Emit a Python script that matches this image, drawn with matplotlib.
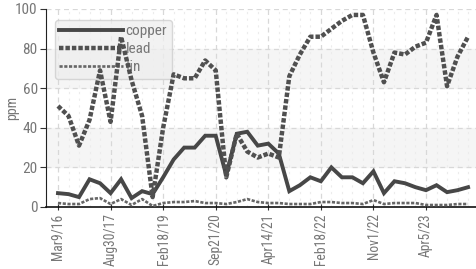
import numpy as np
import matplotlib
matplotlib.use("Agg")
from matplotlib import pyplot as plt

plt.rcParams['font.family'] = ['Roboto Condensed', 'Roboto', 'DejaVu Sans']

# values, one per sample
copper = [7, 6.5, 5, 14, 12, 7, 14, 4.5, 8, 6.5,
          15, 24, 30, 30, 36, 36, 16, 37, 38, 31,
          32, 27, 8, 11, 15, 13, 20, 15, 15, 12,
          18, 7, 13, 12, 10, 8.5, 11, 7.5, 8.5, 10]
lead = [51, 46, 31, 44, 69, 43, 86, 64, 46, 5,
        40, 67, 65, 65, 74, 69, 15, 37, 28, 25,
        27, 25, 66, 77, 86, 86, 90, 94, 97, 97,
        78, 63, 78, 77, 81, 83, 97, 61, 76, 86]
tin = [2, 1.5, 1.5, 4, 4.5, 1.5, 4, 1, 4, 0.5,
       2, 2.5, 2.5, 3, 2, 2, 1.5, 2.5, 4, 2.5,
       2, 2, 1.5, 1.5, 1.5, 2.5, 2.5, 2, 2, 1.5,
       3.5, 1.5, 2, 2, 2, 1, 1, 1, 1.5, 1.5]
tick_labels = ['Mar9/16', 'Aug30/17', 'Feb18/19', 'Sep21/20',
               'Apr14/21', 'Feb18/22', 'Nov1/22', 'Apr5/23']

x = np.arange(len(copper))
txt = '#777777'

fig = plt.figure(figsize=(4.77, 2.69), dpi=100)
ax = fig.add_axes([46 / 477, 62 / 269, 431 / 477, 198 / 269])

ax.axhspan(20, 40, color='#f5f5f5', zorder=0)
ax.axhspan(60, 80, color='#f5f5f5', zorder=0)

ax.plot(x, copper, color='#474747', lw=2.8, solid_joinstyle='miter', label='copper', zorder=3)
ax.plot(x, lead, color='#505050', lw=3.2, dashes=(1.0, 0.45), label='lead', zorder=3)
ax.plot(x, tin, color='#666666', lw=1.9, dashes=(1.2, 0.6), label='tin', zorder=3)

ax.set_xlim(-1.14, 39.85)
ax.set_ylim(0, 100)
ax.set_xticks(x[::5])
ax.set_xticklabels(tick_labels, rotation=90, color=txt, fontsize=9.8)
ax.set_xticks(x, minor=True)
ax.set_yticks([0, 20, 40, 60, 80, 100])
ax.tick_params(axis='y', labelcolor=txt, labelsize=11, length=4, color='#333333', pad=2)
ax.tick_params(axis='x', which='major', length=5, direction='inout', color='#333333', pad=2)
ax.tick_params(axis='x', which='minor', length=0)
ax.grid(True, which='major', color='#d8d8d8', ls=(0, (4, 3)), lw=0.9)
ax.grid(True, which='minor', axis='x', color='#ececec', ls=(0, (2, 4)), lw=0.8)
ax.set_axisbelow(True)
ax.set_ylabel('ppm', color=txt, fontsize=10)
ax.yaxis.set_label_coords(-0.063, 0.5)

for s in ['top', 'right']:
    ax.spines[s].set_visible(False)
ax.spines['left'].set_color('#222222')
ax.spines['bottom'].set_color('#111111')
ax.spines['bottom'].set_linewidth(1.2)

leg = ax.legend(loc='upper left', bbox_to_anchor=(0.02, 0.945), fontsize=11,
                handlelength=4.2, handletextpad=0.15, borderpad=0.3,
                labelspacing=0.25, frameon=True, fancybox=True, framealpha=0.75,
                borderaxespad=0)
leg.get_frame().set_facecolor('#eeeeee')
leg.get_frame().set_edgecolor('#cccccc')
for t in leg.get_texts():
    t.set_color(txt)
leg.set_zorder(2)

fig.savefig('out.png', dpi=100)
